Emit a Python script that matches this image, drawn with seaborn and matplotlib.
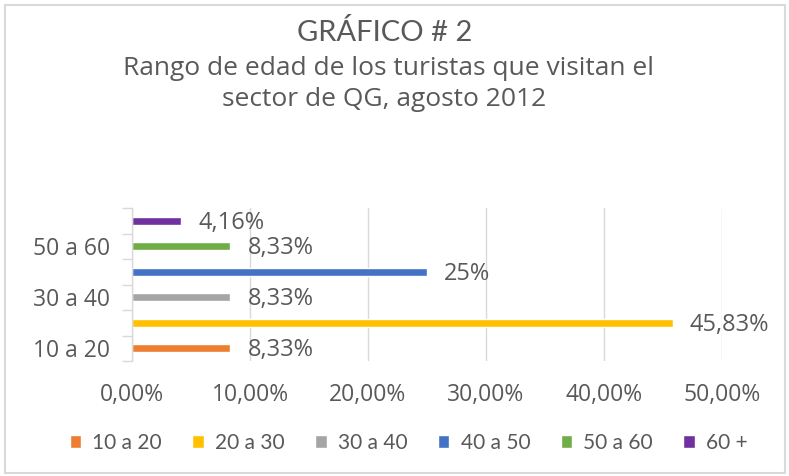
import matplotlib
matplotlib.use("Agg")
import matplotlib.pyplot as plt
import seaborn as sns
import pandas as pd
from matplotlib.patches import Rectangle
from matplotlib.ticker import FuncFormatter, FixedLocator

categories = ["10 a 20", "20 a 30", "30 a 40", "40 a 50", "50 a 60", "60 +"]
values = [8.33, 45.83, 8.33, 25.0, 8.33, 4.16]
value_labels = ["8,33%", "45,83%", "8,33%", "25%", "8,33%", "4,16%"]
colors = ["#ED7D31", "#FFC000", "#A5A5A5", "#4472C4", "#70AD47", "#7030A0"]
x_ticks = [0, 10, 20, 30, 40, 50]

sns.set_theme(style="white")
WIDE = ["Open Sans", "DejaVu Sans"]
NARROW = ["Lato", "DejaVu Sans"]
plt.rcParams["font.family"] = WIDE
TXT = "#595959"
GRID = "#D9D9D9"

df = pd.DataFrame({"cat": categories, "val": values})

fig = plt.figure(figsize=(7.89, 4.76), dpi=100)
ax = fig.add_axes([132 / 789, 1 - 361 / 476, (722 - 132) / 789, (361 - 208) / 476])

order = categories[::-1]
sns.barplot(data=df, y="cat", x="val", hue="cat", order=order, hue_order=categories,
            palette=colors, dodge=False, width=0.32, ax=ax, legend=True,
            saturation=1)

ax.set_xlim(0, 50)
ax.set_ylim(len(categories) - 0.5, -0.5)
ax.set_xticks(x_ticks)
ax.xaxis.set_major_formatter(FuncFormatter(lambda v, p: f"{v:.2f}%".replace(".", ",")))
ax.tick_params(axis="x", length=0, labelcolor=TXT, pad=16)
for t in ax.get_xticklabels():
    t.set_fontsize(16.5)
    t.set_family(WIDE)
ax.grid(axis="x", color=GRID, linewidth=1)
ax.set_axisbelow(True)

ylabels = [c if categories.index(c) % 2 == 0 else "" for c in order]
ax.set_yticks(range(len(order)))
ax.set_yticklabels(ylabels, fontsize=16.5, family=WIDE)
ax.tick_params(axis="y", which="major", length=0, labelcolor=TXT, pad=16)
ax.yaxis.set_minor_locator(FixedLocator([i + 0.5 for i in range(-1, len(order))]))
ax.tick_params(axis="y", which="minor", length=7, color=GRID, width=1, left=True)

for s in ["top", "right", "bottom"]:
    ax.spines[s].set_visible(False)
ax.spines["left"].set_color(GRID)
ax.spines["left"].set_linewidth(1)
ax.set_xlabel("")
ax.set_ylabel("")

for i, c in enumerate(order):
    idx = categories.index(c)
    ax.text(values[idx] + 1.45, i + 0.08, value_labels[idx], va="center", ha="left",
            fontsize=17, color=TXT, family=WIDE)

sns.move_legend(ax, "center", bbox_to_anchor=(0.518, 0.07), bbox_transform=fig.transFigure,
                ncol=6, frameon=False, title=None, handlelength=0.55,
                handleheight=0.55, columnspacing=1.45, handletextpad=0.55,
                prop={"family": NARROW, "size": 15})
for t in ax.get_legend().get_texts():
    t.set_color(TXT)

fig.text(0.487, 0.932, "GRÁFICO # 2", ha="center", va="center", fontsize=21, color=TXT,
         family=NARROW)
fig.text(0.492, 0.857, "Rango de edad de los turistas que visitan el", ha="center", va="center",
         fontsize=19, color=TXT, family=WIDE)
fig.text(0.487, 0.79, "sector de QG, agosto 2012", ha="center", va="center",
         fontsize=19, color=TXT, family=WIDE)

fig.patches.append(Rectangle((5 / 789, 3 / 476), 780 / 789, 468 / 476, transform=fig.transFigure,
                             fill=False, edgecolor="#D9D9D9", linewidth=1.5))

fig.savefig("out.png", dpi=100)
